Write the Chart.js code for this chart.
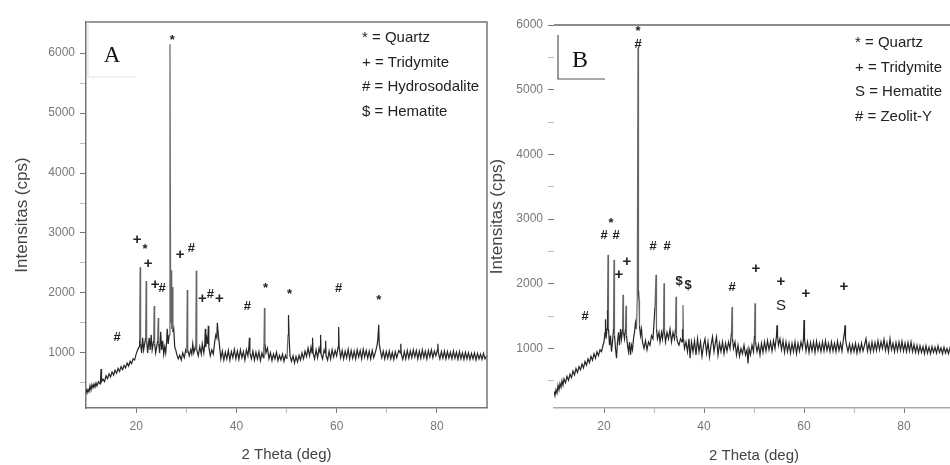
<!DOCTYPE html>
<html>
<head>
<meta charset="utf-8">
<script src="https://cdn.jsdelivr.net/npm/chart.js@4.4.1/dist/chart.umd.min.js"></script>
<style>
body { margin: 0; width: 950px; height: 465px; overflow: hidden; background: #fff; }
#wrapA { position: absolute; left: 0; top: 0; width: 490px; height: 465px; }
#wrapB { position: absolute; left: 480px; top: 0; width: 480px; height: 465px; }
</style>
</head>
<body>
<div id="wrapA"><canvas id="chartA"></canvas></div>
<div id="wrapB"><canvas id="chartB"></canvas></div>
<script>
// 2 theta (deg), intensity (cps)
var patternA = [
 [10.0,400],[10.2,330],[10.4,390],[10.6,350],[10.8,450],[11.0,380],[11.2,470],[11.4,420],[11.6,480],[11.8,430],
 [12.0,500],[12.2,450],[12.5,520],[12.8,480],[12.9,520],[13.0,730],[13.1,520],[13.4,560],[13.7,520],[14.0,620],
 [14.3,570],[14.6,650],[14.9,600],[15.2,680],[15.5,630],[15.8,710],[16.1,660],[16.4,740],[16.7,690],[17.0,770],
 [17.3,720],[17.6,790],[17.9,750],[18.2,830],[18.5,780],[18.8,860],[19.1,820],[19.4,900],[19.7,880],[20.0,980],
 [20.3,1050],[20.6,1100],[20.7,1200],[20.8,2430],[20.9,1150],[21.1,1000],[21.3,1250],[21.5,1050],[21.7,1150],[21.9,1250],
 [22.0,2200],[22.1,1200],[22.3,1000],[22.6,1250],[22.8,1050],[23.0,1300],[23.2,1050],[23.5,1200],[23.6,1780],[23.7,1150],
 [23.9,1000],[24.1,1100],[24.3,1200],[24.4,1580],[24.5,1150],[24.7,1000],[24.9,1350],[25.1,1050],[25.3,1200],[25.5,980],
 [25.7,1100],[25.9,1000],[26.1,1200],[26.2,1400],[26.4,1150],[26.6,1300],[26.75,6150],[26.9,1500],[27.0,2380],[27.1,1400],
 [27.2,2100],[27.35,1350],[27.5,1400],[27.7,1100],[27.9,1050],[28.1,980],[28.4,900],[28.7,960],[29.0,880],[29.3,1000],
 [29.6,920],[29.9,1050],[30.1,1000],[30.2,2050],[30.3,1050],[30.6,950],[30.9,1050],[31.1,980],[31.3,1150],[31.5,1000],
 [31.8,1100],[31.9,1050],[32.0,2370],[32.1,1050],[32.4,950],[32.7,1100],[33.0,980],[33.2,1150],[33.5,1000],[33.7,1150],
 [33.8,1400],[33.9,1100],[34.1,1250],[34.3,1150],[34.4,1450],[34.5,1100],[34.8,950],[35.1,1050],[35.4,980],[35.7,1200],
 [35.9,1300],[36.1,1250],[36.2,1500],[36.4,1300],[36.6,1150],[36.9,900],[37.2,1030],[37.5,880],[37.8,1010],[38.1,900],
 [38.4,1040],[38.7,880],[39.0,1020],[39.3,920],[39.6,1060],[39.9,900],[40.2,1030],[40.5,890],[40.8,1050],[41.1,920],
 [41.4,1020],[41.7,880],[42.0,1050],[42.3,950],[42.5,1100],[42.6,1250],[42.7,1000],[43.0,900],[43.3,1030],[43.6,880],
 [43.9,1010],[44.2,900],[44.5,1020],[44.8,870],[45.1,1000],[45.4,920],[45.5,1100],[45.6,1750],[45.7,1150],[45.9,1000],
 [46.2,1080],[46.5,900],[46.8,1000],[47.1,870],[47.4,980],[47.7,900],[48.0,1010],[48.3,870],[48.6,960],[48.9,880],
 [49.2,980],[49.5,860],[49.8,960],[50.1,900],[50.3,1300],[50.4,1630],[50.5,1300],[50.7,950],[51.0,860],[51.3,950],
 [51.6,830],[51.9,940],[52.2,850],[52.5,960],[52.8,880],[53.1,1000],[53.4,900],[53.7,1030],[54.0,940],[54.3,1080],
 [54.6,950],[54.9,1100],[55.1,1000],[55.2,1250],[55.3,1000],[55.6,900],[55.9,1050],[56.2,920],[56.5,1080],[56.7,1000],
 [56.8,1300],[56.9,980],[57.2,900],[57.5,1050],[57.7,1000],[57.8,1200],[57.9,950],[58.2,880],[58.5,1030],[58.8,900],
 [59.1,1050],[59.4,930],[59.7,1040],[60.0,950],[60.3,1100],[60.4,1430],[60.5,1100],[60.8,920],[61.1,1040],[61.4,900],
 [61.7,1030],[62.0,920],[62.3,1060],[62.6,900],[62.9,1040],[63.2,910],[63.5,1030],[63.8,900],[64.1,1050],[64.4,930],
 [64.7,1040],[65.0,900],[65.3,1060],[65.6,930],[65.9,1040],[66.2,910],[66.5,1030],[66.8,900],[67.1,1040],[67.4,920],
 [67.7,1000],[68.0,1100],[68.2,1200],[68.4,1470],[68.5,1150],[68.7,1050],[69.0,920],[69.3,1030],[69.6,900],[69.9,1020],
 [70.2,910],[70.5,1030],[70.8,900],[71.1,1010],[71.4,890],[71.7,1020],[72.0,920],[72.4,1040],[72.7,1000],[72.8,1150],
 [72.9,980],[73.2,890],[73.5,1020],[73.8,900],[74.1,1040],[74.4,910],[74.7,1030],[75.0,920],[75.3,1050],[75.6,930],
 [75.9,1040],[76.2,900],[76.5,1030],[76.8,910],[77.1,1050],[77.4,920],[77.7,1030],[78.0,900],[78.3,1040],[78.6,930],
 [78.9,1050],[79.2,920],[79.5,1030],[79.8,950],[80.1,1050],[80.2,1150],[80.3,1000],[80.6,900],[80.9,1020],[81.2,910],
 [81.5,1030],[81.8,900],[82.1,1020],[82.4,910],[82.7,1010],[83.0,900],[83.3,1030],[83.6,910],[83.9,1010],[84.2,890],
 [84.5,1020],[84.8,900],[85.1,1000],[85.4,890],[85.7,1010],[86.0,900],[86.3,1000],[86.6,890],[86.9,990],[87.2,900],
 [87.5,1000],[87.8,880],[88.1,990],[88.4,900],[88.7,980],[89.0,890],[89.3,990],[89.6,900],[90.0,960]
];

// panel B
var patternB = [
 [10.0,340],[10.2,270],[10.4,360],[10.6,310],[10.8,430],[11.0,360],[11.2,460],[11.4,400],[11.6,500],[11.8,430],
 [12.0,530],[12.3,470],[12.6,570],[12.9,510],[13.2,600],[13.5,550],[13.8,650],[14.1,590],[14.4,690],[14.7,630],
 [15.0,720],[15.3,670],[15.6,760],[15.9,700],[16.2,800],[16.5,740],[16.8,840],[17.1,780],[17.4,880],[17.7,820],
 [18.0,920],[18.3,850],[18.6,950],[18.9,890],[19.2,980],[19.5,950],[19.8,1050],[20.0,1100],[20.2,1250],[20.3,1450],
 [20.4,1150],[20.6,1300],[20.7,1600],[20.8,2450],[20.9,1300],[21.1,1050],[21.3,1200],[21.5,950],[21.7,1100],[21.9,1300],
 [22.0,2370],[22.1,1200],[22.3,1000],[22.5,850],[22.7,1100],[22.9,1250],[23.1,1050],[23.3,1300],[23.5,1150],[23.7,1300],
 [23.8,1830],[23.9,1250],[24.1,1150],[24.3,1300],[24.4,1660],[24.5,1200],[24.7,1050],[24.9,950],[25.1,1100],[25.3,900],
 [25.5,1050],[25.7,980],[25.9,1150],[26.1,1250],[26.3,1400],[26.5,1300],[26.65,1800],[26.8,5650],[26.9,1900],[27.0,1750],
 [27.1,1350],[27.3,1200],[27.5,1300],[27.7,1100],[28.0,1000],[28.3,1120],[28.6,980],[28.9,1100],[29.2,1050],[29.5,1200],
 [29.8,1150],[30.0,1400],[30.2,1650],[30.4,2140],[30.5,1300],[30.7,1150],[31.0,1250],[31.2,1100],[31.5,1250],[31.7,1150],
 [31.9,1300],[32.0,2010],[32.1,1250],[32.3,1100],[32.6,1250],[32.9,1150],[33.2,1300],[33.5,1100],[33.8,1250],[34.1,1150],
 [34.3,1300],[34.4,1800],[34.5,1200],[34.7,1100],[35.0,1050],[35.3,1150],[35.6,1100],[35.7,1300],[35.8,1670],[35.9,1150],
 [36.1,1000],[36.4,1100],[36.7,950],[37.0,1150],[37.2,850],[37.5,1100],[37.8,950],[38.1,1120],[38.4,900],[38.7,1150],
 [39.0,950],[39.3,1100],[39.6,880],[39.9,1050],[40.2,1150],[40.5,930],[40.8,1100],[41.1,870],[41.4,1050],[41.7,1180],
 [42.0,950],[42.3,1100],[42.5,1180],[42.8,900],[43.1,1080],[43.4,950],[43.7,1100],[44.0,920],[44.3,1080],[44.6,960],
 [44.9,1100],[45.2,1000],[45.5,1250],[45.6,1640],[45.7,1150],[45.9,1000],[46.2,1100],[46.5,900],[46.8,1050],[47.1,880],
 [47.4,1000],[47.7,920],[48.0,1050],[48.3,900],[48.6,980],[48.8,770],[49.0,1000],[49.3,900],[49.6,1050],[49.9,950],
 [50.1,1200],[50.2,1700],[50.3,1100],[50.6,950],[50.9,1060],[51.2,900],[51.5,1080],[51.8,940],[52.1,1100],[52.4,960],
 [52.7,1120],[53.0,980],[53.3,1100],[53.6,960],[53.9,1120],[54.2,1000],[54.5,1200],[54.6,1360],[54.7,1200],[54.9,1050],
 [55.2,1150],[55.5,980],[55.8,1120],[56.1,940],[56.4,1100],[56.7,950],[57.0,1080],[57.3,930],[57.6,1080],[57.9,950],
 [58.2,1100],[58.5,920],[58.8,1080],[59.1,960],[59.4,1100],[59.7,1000],[59.9,1150],[60.0,1440],[60.1,1150],[60.4,960],
 [60.7,1100],[61.0,940],[61.3,1090],[61.6,960],[61.9,1100],[62.2,940],[62.5,1110],[62.8,970],[63.1,1080],[63.4,950],
 [63.7,1100],[64.0,960],[64.3,1120],[64.6,970],[64.9,1080],[65.2,950],[65.5,1100],[65.8,960],[66.1,1080],[66.4,950],
 [66.7,1110],[67.0,970],[67.3,1080],[67.6,960],[67.9,1150],[68.1,1250],[68.2,1360],[68.3,1150],[68.5,1050],[68.8,950],
 [69.1,1070],[69.4,940],[69.7,1060],[70.0,950],[70.3,1080],[70.6,930],[70.9,1060],[71.2,950],[71.5,1080],[71.8,960],
 [72.1,1050],[72.4,1150],[72.7,960],[73.0,1080],[73.3,950],[73.6,1100],[73.9,960],[74.2,1090],[74.5,970],[74.8,1120],
 [75.1,980],[75.4,1100],[75.7,1000],[76.0,1140],[76.3,970],[76.6,1090],[76.9,950],[77.2,1150],[77.5,980],[77.8,1080],
 [78.1,950],[78.4,1090],[78.7,960],[79.0,1100],[79.3,970],[79.6,1110],[79.9,960],[80.2,1080],[80.5,950],[80.8,1090],
 [81.1,960],[81.4,1100],[81.7,950],[82.0,1060],[82.3,940],[82.6,1050],[82.9,930],[83.2,1040],[83.5,940],[83.8,1030],
 [84.1,920],[84.4,1040],[84.7,930],[85.0,1020],[85.3,920],[85.6,1030],[85.9,940],[86.2,1020],[86.5,930],[86.8,1040],
 [87.1,940],[87.4,1010],[87.7,920],[88.0,1020],[88.3,930],[88.6,1000],[88.9,920],[89.2,1010],[89.6,930],[90.0,980]
];

// phase markers: symbol, 2 theta, intensity
var marksA = [
 ['*',27.2,6220],['#',16.2,1250],['+',20.2,2880],['*',21.8,2730],['+',22.4,2480],['+',23.8,2130],['#',25.2,2080],
 ['+',28.8,2630],['#',31.0,2750],['+',33.2,1900],['#',34.8,1980],['+',36.6,1900],['#',42.2,1780],['*',45.8,2080],
 ['*',50.6,1970],['#',60.4,2080],['*',68.4,1880]
];
var marksB = [
 ['*',26.8,5900],['#',26.8,5700],['#',16.2,1490],['*',21.4,2940],['#',20.0,2740],['#',22.4,2740],['+',24.6,2340],
 ['+',23.0,2140],['#',29.8,2580],['#',32.6,2580],['$',35.0,2030],['$',36.8,1970],['#',45.6,1950],['+',50.4,2230],
 ['+',55.4,2030],['S',55.4,1660],['+',60.4,1840],['+',68.0,1950]
];

var legendA = ['* = Quartz', '+ = Tridymite', '# = Hydrosodalite', '$ = Hematite'];
var legendB = ['* = Quartz', '+ = Tridymite', 'S = Hematite', '# = Zeolit-Y'];

var yTicksA = [500,1000,1500,2000,2500,3000,3500,4000,4500,5000,5500,6000];
var yTicksB = [500,1000,1500,2000,2500,3000,3500,4000,4500,5000,5500,6000];
var xTicks = [20,30,40,50,60,70,80];

var SANS = '"Liberation Sans", Arial, sans-serif';

function overlayPlugin(cfg) {
  return {
    id: 'overlay',
    afterDatasetsDraw: function(chart) {
      var ctx = chart.ctx, xs = chart.scales.x, ys = chart.scales.y, a = chart.chartArea;
      ctx.save();
      // frame lines
      ctx.strokeStyle = cfg.frameColor;
      ctx.lineWidth = 1.5;
      ctx.beginPath();
      ctx.moveTo(a.left, a.top);
      ctx.lineTo(a.right, a.top);
      if (cfg.rightEdge) ctx.lineTo(a.right, a.bottom);
      ctx.stroke();
      // letter box
      ctx.strokeStyle = cfg.boxColor;
      ctx.lineWidth = 1.2;
      ctx.beginPath();
      ctx.moveTo(a.left + cfg.box[0], a.top + cfg.box[1]);
      ctx.lineTo(a.left + cfg.box[0], a.top + cfg.box[2]);
      ctx.lineTo(a.left + cfg.box[3], a.top + cfg.box[2]);
      ctx.stroke();
      ctx.fillStyle = '#111';
      ctx.font = cfg.letterSize + 'px "Liberation Serif", "Times New Roman", serif';
      ctx.textAlign = 'center';
      ctx.textBaseline = 'alphabetic';
      ctx.fillText(cfg.letter, a.left + cfg.letterPos[0], a.top + cfg.letterPos[1]);
      // markers
      ctx.textBaseline = 'middle';
      cfg.marks.forEach(function(m) {
        if (m[0] === '+') ctx.font = 'bold 15px ' + SANS;
        else if (m[0] === 'S') ctx.font = '15px ' + SANS;
        else ctx.font = 'bold 13px ' + SANS;
        ctx.fillStyle = '#222';
        ctx.fillText(m[0], xs.getPixelForValue(m[1]), ys.getPixelForValue(m[2]));
      });
      // legend
      ctx.textAlign = 'left';
      ctx.font = '15px ' + SANS;
      ctx.fillStyle = '#222';
      cfg.legend.forEach(function(t, i) {
        ctx.fillText(t, a.left + cfg.legendPos[0], a.top + cfg.legendPos[1] + i * 24.5);
      });
      ctx.restore();
    }
  };
}

function makeChart(id, pattern, yTicks, cfg) {
  return new Chart(document.getElementById(id), {
    type: 'line',
    data: {
      datasets: [{
        data: pattern.map(function(p) { return { x: p[0], y: p[1] }; }),
        borderColor: '#262626',
        borderWidth: 1.2,
        pointRadius: 0,
        tension: 0,
        // tall peak flanks print lighter than the noisy baseline
        segment: {
          borderColor: function(c) {
            return Math.abs(c.p1.parsed.y - c.p0.parsed.y) > 350 ? '#666' : undefined;
          }
        }
      }]
    },
    options: {
      responsive: true,
      maintainAspectRatio: false,
      animation: false,
      layout: { padding: cfg.padding },
      plugins: { legend: { display: false }, tooltip: { enabled: false } },
      scales: {
        x: {
          type: 'linear',
          min: 10,
          max: 90,
          afterBuildTicks: function(s) { s.ticks = xTicks.map(function(v) { return { value: v }; }); },
          afterFit: function(s) { s.height = cfg.xHeight; },
          ticks: {
            color: '#777',
            font: { family: SANS, size: 12 },
            padding: 6,
            maxRotation: 0,
            autoSkip: false,
            callback: function(v) { return v % 20 === 0 ? v : ''; }
          },
          grid: {
            drawOnChartArea: false,
            tickLength: 5,
            color: function(c) { return c.tick && c.tick.value % 20 === 0 ? '#777' : '#bbb'; }
          },
          border: { display: true, color: cfg.xBorder, width: 1.5 },
          title: { display: true, text: '2 Theta (deg)', color: '#444', font: { family: SANS, size: 15 }, padding: 0 }
        },
        y: {
          min: 80,
          max: cfg.yMax,
          afterBuildTicks: function(s) { s.ticks = yTicks.map(function(v) { return { value: v }; }); },
          afterFit: function(s) { s.width = cfg.yWidth; },
          ticks: {
            color: '#777',
            font: { family: SANS, size: 12 },
            padding: 5,
            autoSkip: false,
            callback: function(v) { return v % 1000 === 0 ? v : ''; }
          },
          grid: {
            drawOnChartArea: false,
            tickLength: 6,
            color: function(c) { return c.tick && c.tick.value % 1000 === 0 ? '#777' : '#bbb'; }
          },
          border: { display: cfg.yBorder, color: '#777', width: 1.5 },
          title: { display: true, text: 'Intensitas (cps)', color: '#444', font: { family: SANS, size: 17 }, padding: 0 }
        }
      }
    },
    plugins: [overlayPlugin(cfg)]
  });
}

makeChart('chartA', patternA, yTicksA, {
  padding: { left: 12, top: 22, right: 3, bottom: 1 },
  xHeight: 56, yWidth: 74, yMax: 6520, xBorder: '#777', yBorder: true,
  frameColor: '#777', rightEdge: true,
  box: [2, 0, 55, 49], boxColor: '#e6e6e6',
  letter: 'A', letterSize: 23, letterPos: [26, 40],
  marks: marksA, legend: legendA, legendPos: [276, 16]
});

makeChart('chartB', patternB, yTicksB, {
  padding: { left: 7, top: 25, right: 6, bottom: 0 },
  xHeight: 57, yWidth: 67, yMax: 6000, xBorder: '#aaa', yBorder: false,
  frameColor: '#666', rightEdge: false,
  box: [4, 10, 54, 51], boxColor: '#555',
  letter: 'B', letterSize: 24, letterPos: [26, 42],
  marks: marksB, legend: legendB, legendPos: [301, 18]
});
</script>
</body>
</html>
